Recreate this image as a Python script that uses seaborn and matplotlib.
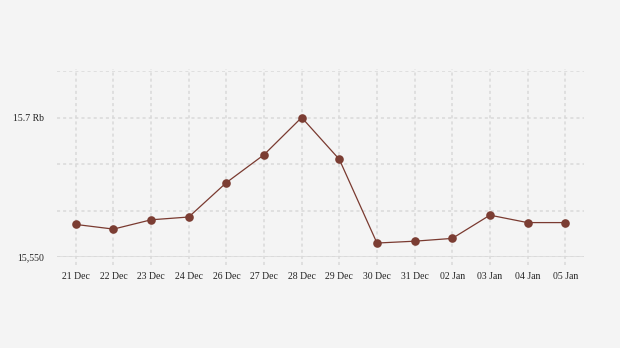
import matplotlib
matplotlib.use("Agg")
import matplotlib.pyplot as plt
import seaborn as sns
import pandas as pd

dates = ["21 Dec", "22 Dec", "23 Dec", "24 Dec", "26 Dec", "27 Dec", "28 Dec",
         "29 Dec", "30 Dec", "31 Dec", "02 Jan", "03 Jan", "04 Jan", "05 Jan"]
values = [15585, 15580, 15590, 15593, 15630, 15660, 15700,
          15655, 15565, 15567, 15570, 15595, 15587, 15587]
ytick_values = [15550, 15600, 15650, 15700, 15750]
ytick_labels = ["15,550", "", "", "15.7 Rb", ""]

sns.set_theme(style="white")
plt.rcParams['font.family'] = ['Liberation Serif', 'DejaVu Serif']

df = pd.DataFrame({"pos": range(len(dates)), "value": values})

fig = plt.figure(figsize=(6.2, 3.48), dpi=100)
fig.patch.set_facecolor("#f4f4f4")
ax = fig.add_axes([57/620, 1 - 257/348, (584-57)/620, (257-71)/348])
ax.set_facecolor("#f4f4f4")

sns.lineplot(data=df, x="pos", y="value", ax=ax, color="#7a3a30", linewidth=0.9,
             marker="o", markersize=6.2, markeredgewidth=0, markerfacecolor="#7b3d33",
             zorder=3)

ax.set_xlim(-0.5, len(dates) - 0.5)
ax.set_ylim(15550, 15750)
ax.set_xticks(range(len(dates)))
ax.set_xticklabels(dates, fontsize=7, color="#222222")
ax.set_yticks(ytick_values)
ax.set_yticklabels(ytick_labels, fontsize=7, color="#222222")
ax.set_xlabel("")
ax.set_ylabel("")
ax.tick_params(axis="x", length=0, pad=10.5)
ax.tick_params(axis="y", length=0, pad=9.5)
ax.grid(True, axis="y", color="#d9d9d9", linestyle=(0, (2, 2)), linewidth=1.1)
ax.vlines(range(len(dates)), 15541, 15752, colors="#d9d9d9",
          linestyles=[(0, (2, 2))], linewidth=1.1, clip_on=False, zorder=0)
ax.set_axisbelow(True)
for s in ax.spines.values():
    s.set_visible(False)
ax.axhline(15550, color="#dddddd", linewidth=1.2, zorder=0)

fig.savefig("out.png", dpi=100, facecolor=fig.get_facecolor())
